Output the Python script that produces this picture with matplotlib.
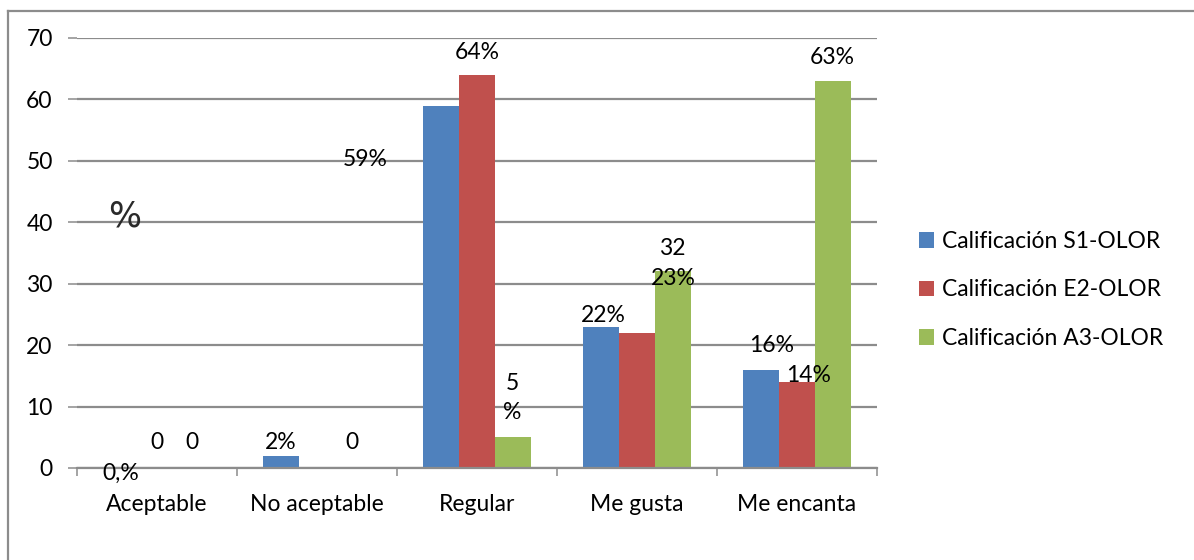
import matplotlib
matplotlib.use("Agg")
import matplotlib.pyplot as plt
from matplotlib.lines import Line2D
import numpy as np

plt.rcParams['font.family'] = ['Lato', 'DejaVu Sans']

# Ratings per category, one list per sample
categories = ["Aceptable", "No aceptable", "Regular", "Me gusta", "Me encanta"]
series_names = ["Calificación S1-OLOR", "Calificación E2-OLOR", "Calificación A3-OLOR"]
s1_olor = [0, 2, 59, 23, 16]
e2_olor = [0, 0, 64, 22, 14]
a3_olor = [0, 0, 5, 32, 63]

# Data labels as they appear on the chart (hand-placed in the sheet)
label_texts = ["0,%", "0", "0", "2%", "0", "59%", "64%", "5", "%",
               "22%", "32", "23%", "16%", "14%", "63%"]
label_xy = [(-0.225, -0.8), (0.0, 4.1), (0.22, 4.1), (0.775, 4.1), (1.22, 4.1),
            (1.3, 50.3), (2.0, 67.7), (2.22, 13.8), (2.22, 9.0),
            (2.79, 24.9), (3.22, 35.8), (3.23, 30.9), (3.84, 20.0),
            (4.075, 15.1), (4.22, 66.9)]

colors = ["#4F81BD", "#C0504D", "#9BBB59"]
grid_color = "#8c8c8c"
fs = 16.5

W, H = 1194, 560
fig = plt.figure(figsize=(W / 100, H / 100), dpi=100)
ax = fig.add_axes([77 / W, 92 / H, 800 / W, 430 / H])

x = np.arange(len(categories))
width = 0.225
for i, (vals, name, c) in enumerate(zip([s1_olor, e2_olor, a3_olor], series_names, colors)):
    ax.bar(x + (i - 1) * width, vals, width, color=c, label=name, zorder=3)

ax.set_xlim(-0.5, len(categories) - 0.5)
ax.set_ylim(0, 70)
ax.set_yticks(range(0, 71, 10))
ax.yaxis.grid(True, color=grid_color, linewidth=1.6, zorder=0)
ax.tick_params(axis='y', length=6.5, width=1.1, color=grid_color, pad=11,
               labelsize=fs)

ax.set_xticks(x)
ax.set_xticklabels(categories)
ax.set_xticks(np.arange(-0.5, len(categories)), minor=True)
ax.tick_params(axis='x', which='major', length=0, pad=18.5, labelsize=fs)
ax.tick_params(axis='x', which='minor', length=6, width=1.1, color=grid_color)

for side in ['left', 'right', 'top']:
    ax.spines[side].set_visible(False)
ax.spines['bottom'].set_color(grid_color)
ax.spines['bottom'].set_linewidth(1.6)
ax.spines['bottom'].set_zorder(4)

for txt, (lx, ly) in zip(label_texts, label_xy):
    ax.text(lx, ly, txt, ha='center', va='center', fontsize=fs, zorder=5)

# big percent sign inside the plot
ax.text(-0.2, 41.0, "%", ha='center', va='center', fontsize=25,
        family=['DejaVu Sans'], color='#2a2a2a')

ax.legend(loc='center left', bbox_to_anchor=(919 / W, 270 / H),
          bbox_transform=fig.transFigure, frameon=False, fontsize=fs,
          handlelength=0.65, handleheight=0.65, handletextpad=0.35,
          labelspacing=1.2, borderpad=0, borderaxespad=0)

# outer chart frame
fy = 1 - 11 / H
fx = 8 / W
fig.add_artist(Line2D([fx, fx], [0, fy], transform=fig.transFigure,
                      color=grid_color, linewidth=1.6))
fig.add_artist(Line2D([fx, 1], [fy, fy], transform=fig.transFigure,
                      color=grid_color, linewidth=1.6))

fig.savefig("out.png", dpi=100)
